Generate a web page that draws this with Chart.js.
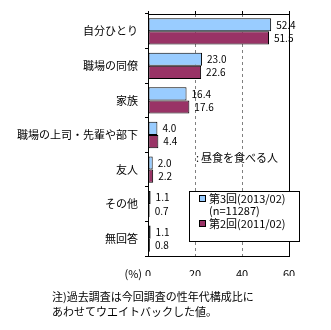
<!DOCTYPE html>
<html>
<head>
<meta charset="utf-8">
<script src="https://cdn.jsdelivr.net/npm/chart.js@4.4.1/dist/chart.umd.min.js"></script>
<style>
  body { margin: 0; background: #fff; }
  #wrap { width: 331px; height: 330px; position: relative; }
</style>
</head>
<body>
<div id="wrap"><canvas id="myChart" width="331" height="330"></canvas></div>
<script>
var categories = ["自分ひとり", "職場の同僚", "家族", "職場の上司・先輩や部下", "友人", "その他", "無回答"];
var round3 = [52.4, 23.0, 16.4, 4.0, 2.0, 1.1, 1.1];
var round2 = [51.5, 22.6, 17.6, 4.4, 2.2, 0.7, 0.8];
var seriesNames = ["第3回(2013/02)", "第2回(2011/02)"];
var xTicks = [0, 20, 40, 60];

var jpFont = "'Noto Sans CJK JP', 'Noto Sans', sans-serif";

// value labels next to the bars
var valueLabels = {
  id: "valueLabels",
  afterDatasetsDraw: function(chart) {
    var ctx = chart.ctx;
    ctx.save();
    ctx.font = "10px " + jpFont;
    ctx.fillStyle = "#000";
    ctx.textBaseline = "middle";
    chart.data.datasets.forEach(function(ds, i) {
      chart.getDatasetMeta(i).data.forEach(function(bar, j) {
        ctx.fillText(ds.data[j].toFixed(1), bar.x + 5, bar.y);
      });
    });
    ctx.restore();
  }
};

// border, top ticks, note, legend box, footnote
var extras = {
  id: "extras",
  afterDraw: function(chart) {
    var ctx = chart.ctx;
    var a = chart.chartArea;
    var xs = chart.scales.x;
    ctx.save();
    ctx.strokeStyle = "#000";
    ctx.lineWidth = 1;
    ctx.strokeRect(Math.round(a.left) + 0.5, Math.round(a.top) + 0.5, Math.round(a.right - a.left), Math.round(a.bottom - a.top));
    xTicks.forEach(function(t) {
      var x = Math.round(xs.getPixelForValue(t)) + 0.5;
      ctx.beginPath();
      ctx.moveTo(x, a.top);
      ctx.lineTo(x, a.top - 3);
      ctx.stroke();
    });

    ctx.fillStyle = "#000";
    ctx.textBaseline = "middle";
    ctx.font = "11px " + jpFont;
    ctx.fillText(":", 196, 158);
    ctx.fillText("昼食を食べる人", 201, 158);

    ctx.textAlign = "right";
    ctx.fillText("(%)", a.left - 6, 274);
    ctx.textAlign = "left";

    // legend
    ctx.fillStyle = "#fff";
    ctx.fillRect(189, 191, 110, 50);
    ctx.strokeRect(189.5, 191.5, 110, 50);
    var colors = ["#99CCFF", "#993366"];
    var ys = [198, 223];
    ctx.font = "11px " + jpFont;
    for (var i = 0; i < 2; i++) {
      ctx.fillStyle = colors[i];
      ctx.fillRect(199, ys[i] - 3, 7, 7);
      ctx.strokeRect(199.5, ys[i] - 2.5, 6, 6);
      ctx.fillStyle = "#000";
      ctx.fillText(seriesNames[i], 209, ys[i] + 1);
    }
    ctx.fillText("(n=11287)", 209, 211);

    ctx.font = "11px " + jpFont;
    ctx.fillText("注)過去調査は今回調査の性年代構成比に", 52, 297);
    ctx.fillText("あわせてウエイトバックした値。", 52, 312);
    ctx.restore();
  }
};

new Chart("myChart", {
  type: "bar",
  data: {
    labels: categories,
    datasets: [{
      label: seriesNames[0],
      data: round3,
      backgroundColor: "#99CCFF",
      borderColor: "#000",
      borderWidth: 1,
      borderSkipped: false
    }, {
      label: seriesNames[1],
      data: round2,
      backgroundColor: "#993366",
      borderColor: "#000",
      borderWidth: 1,
      borderSkipped: false
    }]
  },
  options: {
    indexAxis: "y",
    responsive: false,
    animation: false,
    layout: { padding: { left: 0, right: 42, top: 14, bottom: 54 } },
    datasets: { bar: { categoryPercentage: 0.76, barPercentage: 1 } },
    plugins: {
      legend: { display: false },
      tooltip: { enabled: false }
    },
    scales: {
      x: {
        min: 0, max: 60,
        afterBuildTicks: function(s) { s.ticks = xTicks.map(function(v) { return { value: v }; }); },
        afterFit: function(s) { s.height = 20; },
        ticks: { font: { size: 11, family: jpFont }, color: "#000", padding: 11 },
        grid: {
          drawTicks: false,
          color: function(c) { return (c.tick && (c.tick.value === 20 || c.tick.value === 40)) ? "#808080" : "rgba(0,0,0,0)"; }
        },
        border: { display: false, dash: [3, 3] }
      },
      y: {
        afterFit: function(s) { s.width = 148; },
        ticks: { font: { size: 11, family: jpFont }, color: "#000", padding: 7 },
        grid: { offset: true, drawOnChartArea: false, drawTicks: true, tickLength: 3, color: "#000" },
        border: { display: false }
      }
    }
  },
  plugins: [valueLabels, extras]
});
</script>
</body>
</html>
